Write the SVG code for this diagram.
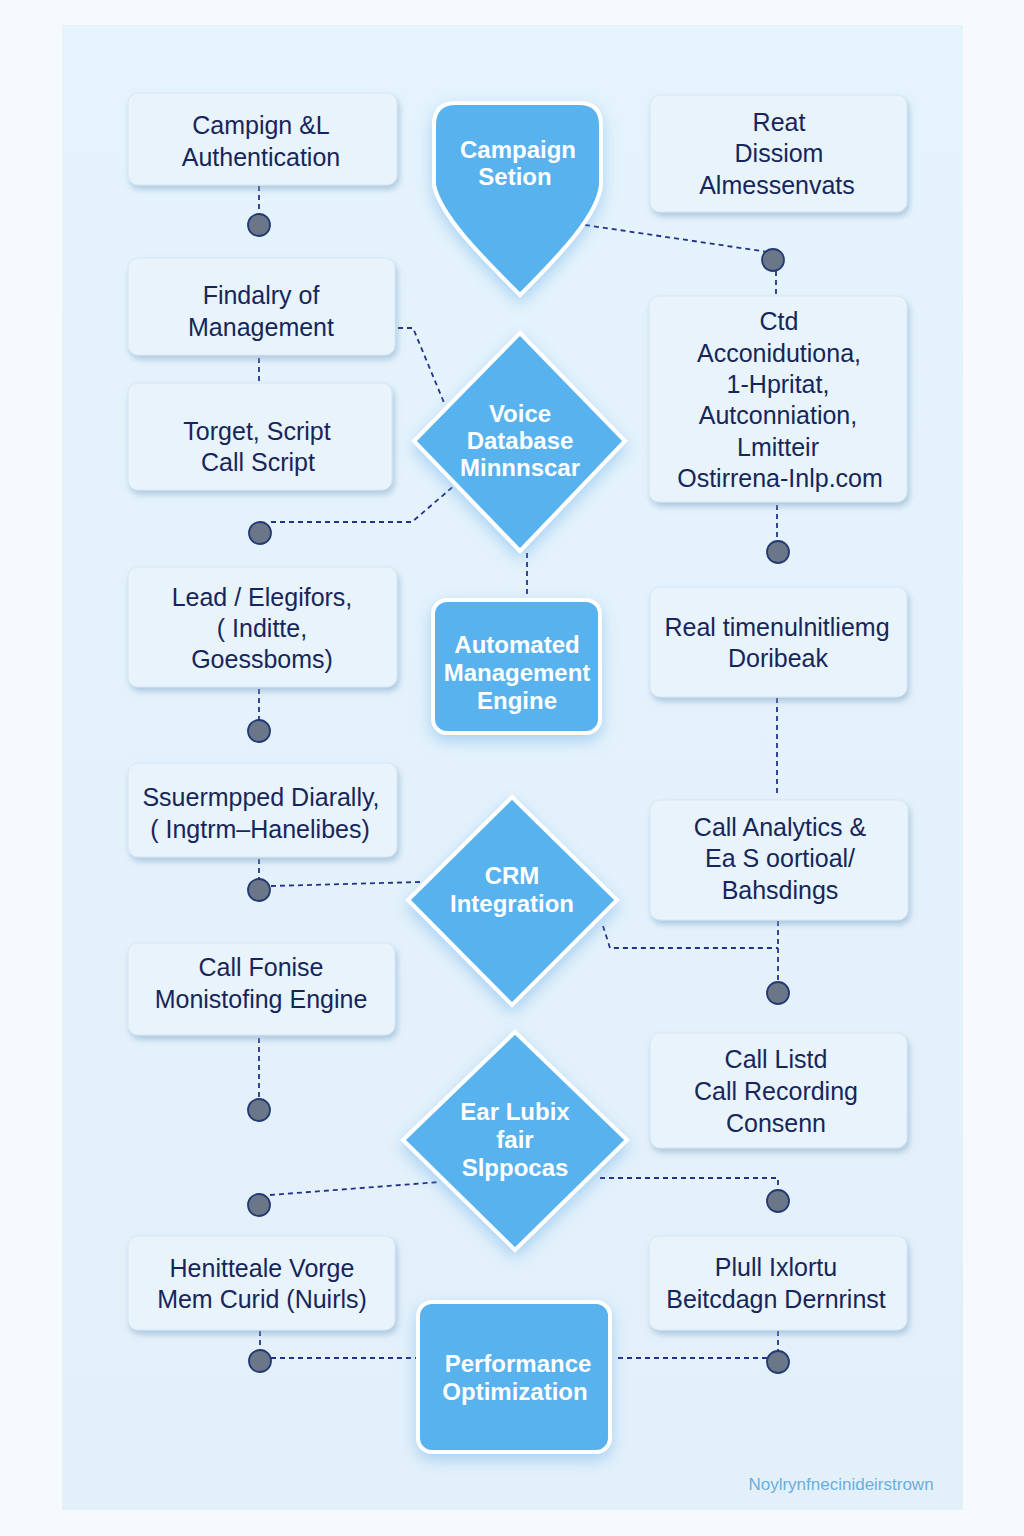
<svg xmlns="http://www.w3.org/2000/svg" width="1024" height="1536" viewBox="0 0 1024 1536">
<defs>
<linearGradient id="bgpanel" x1="0" y1="0" x2="0" y2="1">
<stop offset="0" stop-color="#e5f3fc"/>
<stop offset="1" stop-color="#e3f0fa"/>
</linearGradient>
<filter id="sh" x="-20%" y="-20%" width="140%" height="150%">
<feDropShadow dx="2" dy="4" stdDeviation="3" flood-color="#7fa6c8" flood-opacity="0.55"/>
</filter>
<filter id="glow" x="-30%" y="-30%" width="160%" height="160%">
<feDropShadow dx="0" dy="6" stdDeviation="8" flood-color="#5aa7e6" flood-opacity="0.45"/>
</filter>
<style>
.box{fill:#e8f3fb;stroke:#d6e7f4;stroke-width:1;filter:url(#sh)}
.bt{font-family:"Liberation Sans",Arial,sans-serif;font-size:25px;fill:#16265a;text-anchor:middle}
.shape{fill:#58b2ee;stroke:#ffffff;stroke-width:4;filter:url(#glow)}
.ct{font-family:"Liberation Sans",Arial,sans-serif;font-size:24px;font-weight:bold;fill:#ffffff;text-anchor:middle}
.dash{fill:none;stroke:#25328a;stroke-width:1.8;stroke-dasharray:5 4}
.dot{fill:#6b7788;stroke:#233a73;stroke-width:1.8}
</style>
</defs>
<rect x="0" y="0" width="1024" height="1536" fill="#f6fafd"/>
<rect x="62" y="25" width="901" height="1485" fill="url(#bgpanel)"/>

<g id="connectors">
<path class="dash" d="M259,186 V214"/>
<path class="dash" d="M585,225 L768,252"/>
<path class="dash" d="M776,271 V296"/>
<path class="dash" d="M398,328 H413 L445,405"/>
<path class="dash" d="M259,358 V383"/>
<path class="dash" d="M271,522 H412 L455,485"/>
<path class="dash" d="M777,505 V541"/>
<path class="dash" d="M527,553 V600"/>
<path class="dash" d="M259,689 V720"/>
<path class="dash" d="M777,698 V796"/>
<path class="dash" d="M259,859 V879"/>
<path class="dash" d="M271,886 L420,882"/>
<path class="dash" d="M603,926 L610,948 H778"/>
<path class="dash" d="M778,921 V982"/>
<path class="dash" d="M259,1038 V1099"/>
<path class="dash" d="M270,1195 L440,1182"/>
<path class="dash" d="M600,1178 H778 V1190"/>
<path class="dash" d="M260,1331 V1350"/>
<path class="dash" d="M271,1358 H418"/>
<path class="dash" d="M778,1331 V1351"/>
<path class="dash" d="M618,1358 H767"/>
<circle class="dot" cx="259" cy="225" r="11"/>
<circle class="dot" cx="773" cy="260" r="11"/>
<circle class="dot" cx="260" cy="533" r="11"/>
<circle class="dot" cx="778" cy="552" r="11"/>
<circle class="dot" cx="259" cy="731" r="11"/>
<circle class="dot" cx="259" cy="890" r="11"/>
<circle class="dot" cx="778" cy="993" r="11"/>
<circle class="dot" cx="259" cy="1110" r="11"/>
<circle class="dot" cx="259" cy="1205" r="11"/>
<circle class="dot" cx="778" cy="1201" r="11"/>
<circle class="dot" cx="260" cy="1361" r="11"/>
<circle class="dot" cx="778" cy="1362" r="11"/>
</g>

<g id="l1"><rect class="box" x="128" y="93" width="269" height="92" rx="10"/>
<text class="bt" x="261" y="134">Campign &amp;L</text><text class="bt" x="261" y="166">Authentication</text></g>
<g id="l2"><rect class="box" x="128" y="258" width="267" height="97" rx="10"/>
<text class="bt" x="261" y="304">Findalry of</text><text class="bt" x="261" y="336">Management</text></g>
<g id="l3"><rect class="box" x="128" y="383" width="264" height="107" rx="10"/>
<text class="bt" x="257" y="440">Torget, Script</text><text class="bt" x="258" y="471">Call Script</text></g>
<g id="l4"><rect class="box" x="128" y="567" width="269" height="120" rx="10"/>
<text class="bt" x="262" y="606">Lead / Elegifors,</text><text class="bt" x="262" y="637">( Inditte,</text><text class="bt" x="262" y="668">Goessboms)</text></g>
<g id="l5"><rect class="box" x="128" y="763" width="269" height="94" rx="10"/>
<text class="bt" x="261" y="806">Ssuermpped Diarally,</text><text class="bt" x="260" y="838">( Ingtrm–Hanelibes)</text></g>
<g id="l6"><rect class="box" x="128" y="943" width="267" height="92" rx="10"/>
<text class="bt" x="261" y="976">Call Fonise</text><text class="bt" x="261" y="1008">Monistofing Engine</text></g>
<g id="l7"><rect class="box" x="128" y="1236" width="267" height="94" rx="10"/>
<text class="bt" x="262" y="1277">Henitteale Vorge</text><text class="bt" x="262" y="1308">Mem Curid (Nuirls)</text></g>

<g id="r1"><rect class="box" x="650" y="95" width="257" height="117" rx="10"/>
<text class="bt" x="779" y="131">Reat</text><text class="bt" x="779" y="162">Dissiom</text><text class="bt" x="777" y="194">Almessenvats</text></g>
<g id="r2"><rect class="box" x="649" y="296" width="258" height="206" rx="10"/>
<text class="bt" x="779" y="330">Ctd</text><text class="bt" x="779" y="362">Acconidutiona,</text><text class="bt" x="778" y="393">1-Hpritat,</text><text class="bt" x="778" y="424">Autconniation,</text><text class="bt" x="778" y="456">Lmitteir</text><text class="bt" x="780" y="487">Ostirrena-Inlp.com</text></g>
<g id="r3"><rect class="box" x="650" y="587" width="257" height="110" rx="10"/>
<text class="bt" x="777" y="636">Real timenulnitliemg</text><text class="bt" x="778" y="667">Doribeak</text></g>
<g id="r4"><rect class="box" x="650" y="800" width="258" height="120" rx="10"/>
<text class="bt" x="780" y="836">Call Analytics &amp;</text><text class="bt" x="780" y="867">Ea S oortioal/</text><text class="bt" x="780" y="899">Bahsdings</text></g>
<g id="r5"><rect class="box" x="650" y="1033" width="257" height="115" rx="10"/>
<text class="bt" x="776" y="1068">Call Listd</text><text class="bt" x="776" y="1100">Call Recording</text><text class="bt" x="776" y="1132">Consenn</text></g>
<g id="r6"><rect class="box" x="649" y="1236" width="258" height="94" rx="10"/>
<text class="bt" x="776" y="1276">Plull Ixlortu</text><text class="bt" x="776" y="1308">Beitcdagn Dernrinst</text></g>

<g id="shield"><path class="shape" d="M434,125 Q434,103 456,103 L579,103 Q601,103 601,125 L601,185 C598,215 560,255 520,295 C480,255 440,215 434,185 Z"/>
<text class="ct" x="518" y="158">Campaign</text><text class="ct" x="515" y="185">Setion</text></g>
<g id="d1"><path class="shape" d="M520,333 L625,441 L520,551 L414,441 Z"/>
<text class="ct" x="520" y="422">Voice</text><text class="ct" x="520" y="449">Database</text><text class="ct" x="520" y="476">Minnnscar</text></g>
<g id="ame"><rect class="shape" x="433" y="600" width="167" height="133" rx="14"/>
<text class="ct" x="517" y="653">Automated</text><text class="ct" x="517" y="681">Management</text><text class="ct" x="517" y="709">Engine</text></g>
<g id="d2"><path class="shape" d="M512,797 L617,900 L512,1005 L408,900 Z"/>
<text class="ct" x="512" y="884">CRM</text><text class="ct" x="512" y="912">Integration</text></g>
<g id="d3"><path class="shape" d="M515,1032 L627,1140 L515,1250 L403,1140 Z"/>
<text class="ct" x="515" y="1120">Ear Lubix</text><text class="ct" x="515" y="1148">fair</text><text class="ct" x="515" y="1176">Slppocas</text></g>
<g id="perf"><rect class="shape" x="418" y="1302" width="192" height="150" rx="14"/>
<text class="ct" x="518" y="1372">Performance</text><text class="ct" x="515" y="1400">Optimization</text></g>

<text x="841" y="1490" font-family="'Liberation Sans',Arial,sans-serif" font-size="17" fill="#6aaee0" text-anchor="middle">Noylrynfnecinideirstrown</text>
</svg>
